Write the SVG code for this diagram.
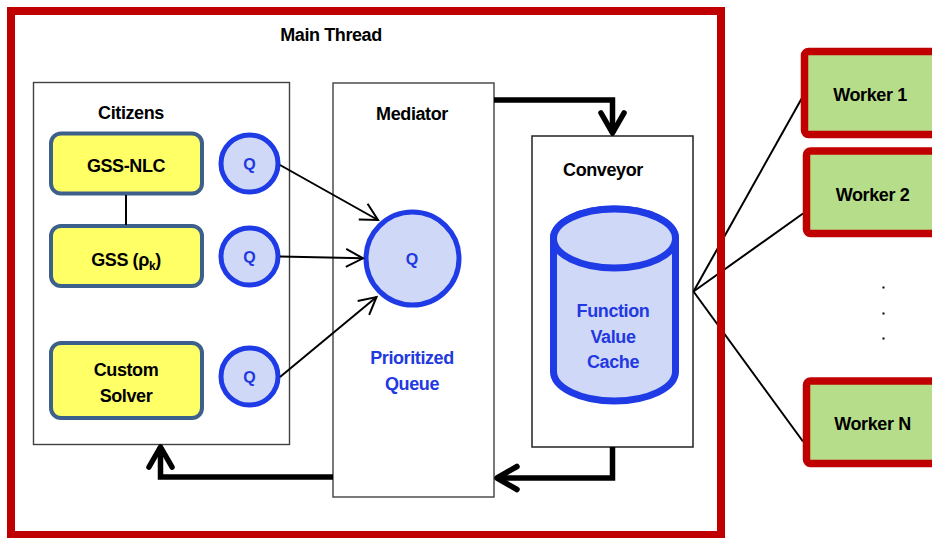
<svg xmlns="http://www.w3.org/2000/svg" width="932" height="538" viewBox="0 0 932 538">
<style>
.t{font-family:"Liberation Sans",Arial,sans-serif;font-weight:bold;font-size:18px;letter-spacing:-0.4px;text-anchor:middle;fill:#000}
.b{fill:#2238e0}
.q{font-size:16px;letter-spacing:0}
.box{fill:#fff;stroke:#404040;stroke-width:1.4}
.sol{fill:#ffff66;stroke:#3c5f8c;stroke-width:4}
.qc{fill:#d0d8f8;stroke:#1f3be6;stroke-width:5}
.wk{fill:#b6de8a;stroke:#c00000;stroke-width:7.5}
.thin{fill:none;stroke:#000;stroke-width:2}
.thick{fill:none;stroke:#000;stroke-width:5.5;stroke-linejoin:miter}
</style>
<defs>
<marker id="ah" viewBox="-20 -12 22 24" markerWidth="22" markerHeight="24" refX="0" refY="0" orient="auto" markerUnits="userSpaceOnUse" overflow="visible">
<path d="M-17,-9 L0,0 L-17,9" fill="none" stroke="#000" stroke-width="2"/>
</marker>
<marker id="ahb" viewBox="-24 -14 26 28" markerWidth="26" markerHeight="28" refX="0" refY="0" orient="auto" markerUnits="userSpaceOnUse" overflow="visible">
<path d="M-20,-11.5 L0,0 L-20,11.5" fill="none" stroke="#000" stroke-width="5.5" stroke-linecap="round" stroke-linejoin="round"/>
</marker>
</defs>
<rect x="0" y="0" width="932" height="538" fill="#fff"/>
<text class="t" x="331" y="41">Main Thread</text>

<g id="citizens">
<rect class="box" x="33.5" y="82.5" width="256" height="362"/>
<text class="t" x="131" y="119">Citizens</text>
</g>
<g id="gss-nlc">
<rect class="sol" x="51" y="133.5" width="151" height="60" rx="10"/>
<text class="t" x="126" y="172">GSS-NLC</text>
</g>
<g id="gss">
<rect class="sol" x="51" y="226" width="151" height="60" rx="10"/>
<text class="t" x="126" y="266">GSS (ρ<tspan font-size="12" dy="4">k</tspan><tspan dy="-4">)</tspan></text>
</g>
<g id="custom">
<rect class="sol" x="51" y="343" width="151" height="75" rx="10"/>
<text class="t" x="126" y="376">Custom</text>
<text class="t" x="126" y="401.5">Solver</text>
</g>
<g id="q1">
<circle class="qc" cx="249.5" cy="163.5" r="28.5"/>
<text class="t b q" x="249.5" y="169.5">Q</text>
</g>
<g id="q2">
<circle class="qc" cx="249.5" cy="256.5" r="28.5"/>
<text class="t b q" x="249.5" y="262.5">Q</text>
</g>
<g id="q3">
<circle class="qc" cx="249.5" cy="376.5" r="28.5"/>
<text class="t b q" x="249.5" y="382.5">Q</text>
</g>

<g id="mediator">
<rect class="box" x="333" y="83" width="161" height="414"/>
<text class="t" x="412" y="120">Mediator</text>
<circle class="qc" cx="412.5" cy="258.5" r="46.5"/>
<text class="t b q" x="412" y="265">Q</text>
<text class="t b" x="412" y="364">Prioritized</text>
<text class="t b" x="412" y="389.5">Queue</text>
</g>

<g id="conveyor">
<rect class="box" x="532" y="136" width="161" height="311" style="stroke:#222;stroke-width:1.5"/>
<text class="t" x="603" y="176">Conveyor</text>
<path d="M553.5,238.5 V371.5 A61,29.5 0 0 0 675.5,371.5 V238.5 A61,29.5 0 0 0 553.5,238.5 Z" fill="#d0d8f8" stroke="#1f3be6" stroke-width="7"/>
<ellipse cx="614.5" cy="238.5" rx="61" ry="29.5" fill="#d0d8f8" stroke="#1f3be6" stroke-width="7"/>
<text class="t b" x="613" y="317">Function</text>
<text class="t b" x="613" y="342.5">Value</text>
<text class="t b" x="613" y="367.5">Cache</text>
</g>

<g id="connectors">
<line class="thin" x1="126" y1="195" x2="126" y2="225"/>
<line class="thin" x1="280" y1="165" x2="378" y2="220" marker-end="url(#ah)"/>
<line class="thin" x1="280" y1="256.5" x2="363" y2="258.3" marker-end="url(#ah)"/>
<line class="thin" x1="280" y1="377" x2="376.5" y2="297" marker-end="url(#ah)"/>
<path class="thick" d="M494,100 H612.5 V133" marker-end="url(#ahb)"/>
<path class="thick" d="M612.5,447 V478 H497" marker-end="url(#ahb)"/>
<path class="thick" d="M333,477 H160.5 V447" marker-end="url(#ahb)"/>
<line class="thin" x1="693.5" y1="291.5" x2="804.5" y2="93.5"/>
<line class="thin" x1="693.5" y1="291.5" x2="803" y2="213.5"/>
<line class="thin" x1="693.5" y1="291.5" x2="803" y2="441.5"/>
</g>

<rect id="main-thread" x="11" y="11" width="710" height="524" fill="none" stroke="#c00000" stroke-width="8"/>

<g id="worker1">
<rect class="wk" x="804.5" y="51.5" width="150" height="83" rx="4"/>
<text class="t" x="870" y="101">Worker 1</text>
</g>
<g id="worker2">
<rect class="wk" x="806.5" y="151" width="150" height="82.5" rx="4"/>
<text class="t" x="872.5" y="201">Worker 2</text>
</g>
<g id="workerN">
<rect class="wk" x="806.5" y="381" width="150" height="82.5" rx="4"/>
<text class="t" x="872.5" y="430">Worker N</text>
</g>
<g id="dots" fill="#000">
<rect x="882.5" y="286.5" width="2" height="2"/>
<rect x="882.5" y="312.5" width="2" height="2"/>
<rect x="882.5" y="337.5" width="2" height="2"/>
</g>
</svg>
